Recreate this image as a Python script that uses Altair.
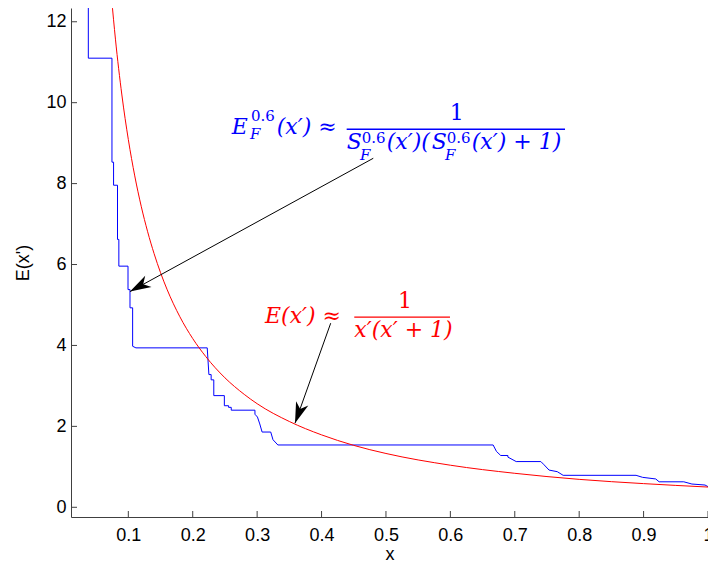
import altair as alt
import pandas as pd

# ---------------- data ----------------
x_ticks = [0.1, 0.2, 0.3, 0.4, 0.5, 0.6, 0.7, 0.8, 0.9, 1.0]
y_ticks = [0, 2, 4, 6, 8, 10, 12]

# empirical (blue) staircase: vertices in drawing order
blue_x = [0.0379, 0.0379, 0.0746, 0.0746, 0.0771, 0.0771, 0.0832, 0.0832, 0.0853, 0.0853,
          0.0995, 0.0995, 0.1026, 0.1026, 0.1067, 0.1067, 0.1118, 0.2225, 0.2251, 0.2286,
          0.2286, 0.2327, 0.2327, 0.2491, 0.2491, 0.2557, 0.2557, 0.2598, 0.2598, 0.2966,
          0.2966, 0.3005, 0.3041, 0.3077, 0.3211, 0.3246, 0.3322, 0.6664, 0.6716, 0.6782,
          0.6893, 0.6893, 0.7022, 0.7405, 0.7455, 0.7532, 0.7660, 0.7751, 0.8883, 0.8985,
          0.9189, 0.9241, 0.9624, 0.9750, 0.9954, 1.0]
blue_y = [13.0, 11.10, 11.10, 8.53, 8.53, 7.96, 7.96, 6.62, 6.62, 5.96,
          5.96, 5.38, 5.38, 4.93, 4.93, 3.98, 3.94, 3.94, 3.28, 3.28,
          3.15, 3.15, 2.76, 2.76, 2.51, 2.51, 2.47, 2.47, 2.40, 2.40,
          2.30, 2.23, 2.06, 1.86, 1.86, 1.67, 1.54, 1.54, 1.38, 1.28,
          1.28, 1.24, 1.13, 1.13, 1.05, 0.92, 0.88, 0.79, 0.79, 0.74,
          0.70, 0.63, 0.63, 0.575, 0.55, 0.51]

# theoretical (red) curve
red_x = [0.074, 0.08, 0.09, 0.1, 0.11, 0.12, 0.13, 0.14, 0.15, 0.16, 0.18, 0.2, 0.22,
         0.25, 0.28, 0.3, 0.35, 0.4, 0.45, 0.5, 0.6, 0.7, 0.8, 0.9, 1.0]
red_y = [12.58, 11.57, 10.19, 9.09, 8.19, 7.44, 6.81, 6.27, 5.80, 5.39, 4.71, 4.17, 3.73,
         3.20, 2.79, 2.56, 2.12, 1.79, 1.53, 1.33, 1.04, 0.84, 0.69, 0.585, 0.50]

BLUE = "#0000ff"
RED = "#ff0000"

# annotation pieces: text, x, y (baseline), font size, colour, italic, align
ann = [
    ("E", 0.2605, 9.227, 22, BLUE, True, "left"),
    ("0.6", 0.2905, 9.55, 15, BLUE, False, "left"),
    ("F", 0.2889, 9.10, 15, BLUE, True, "left"),
    ("(x\u2032) \u2248", 0.3304, 9.227, 22, BLUE, True, "left"),
    ("1", 0.6098, 9.573, 22, BLUE, False, "center"),
    ("S", 0.4390, 8.856, 22, BLUE, True, "left"),
    ("0.6", 0.4623, 9.005, 15, BLUE, False, "left"),
    ("F", 0.4597, 8.585, 15, BLUE, True, "left"),
    ("(x\u2032)(", 0.5011, 8.856, 22, BLUE, True, "left"),
    ("S", 0.5710, 8.856, 22, BLUE, True, "left"),
    ("0.6", 0.5943, 9.005, 15, BLUE, False, "left"),
    ("F", 0.5917, 8.585, 15, BLUE, True, "left"),
    ("(x\u2032) + 1)", 0.6331, 8.856, 22, BLUE, True, "left"),
    ("E(x\u2032) \u2248", 0.3122, 4.558, 22, RED, True, "left"),
    ("1", 0.5296, 4.921, 22, RED, False, "center"),
    ("x\u2032(x\u2032 + 1)", 0.4508, 4.200, 22, RED, True, "left"),
]

# fraction bars
bar_x = [0.4390, 0.4508]
bar_x2 = [0.7780, 0.5994]
bar_y = [9.343, 4.699]
bar_color = [BLUE, RED]

# arrows: start -> tip
arrow_x = [0.4803, 0.4142]
arrow_y = [8.626, 4.550]
arrow_tx = [0.1026, 0.3588]
arrow_ty = [5.331, 2.080]
arrow_angle = [241, 200]

# ---------------- chart ----------------
W, H = 637, 509
AX = "#404040"
SANS = "Liberation Sans"
SERIF = "DejaVu Serif"

xaxis = alt.Axis(values=x_ticks, format="~g", ticks=False, tickSize=0, grid=False,
                 domainColor=AX, domainWidth=1, labelFont=SANS, labelFontSize=18,
                 labelColor="#000", labelPadding=9, labelFlush=False, labelOverlap=False,
                 titleFont=SANS, titleFontSize=18, titleFontWeight="normal",
                 titleColor="#000", titlePadding=1)
yaxis = alt.Axis(values=y_ticks, ticks=False, tickSize=0, grid=False,
                 domainColor=AX, domainWidth=1, labelFont=SANS, labelFontSize=18,
                 labelColor="#000", labelPadding=5, labelFlush=False, labelOverlap=False,
                 titleFont=SANS, titleFontSize=18, titleFontWeight="normal",
                 titleColor="#000", titlePadding=13)

X = alt.X("x:Q", scale=alt.Scale(domain=[0.011, 1.0], nice=False, zero=False),
          axis=xaxis, title="x")
Y = alt.Y("y:Q", scale=alt.Scale(domain=[-0.24, 12.34], nice=False, zero=False),
          axis=yaxis, title="E(x')")

blue_df = pd.DataFrame({"x": blue_x, "y": blue_y, "i": range(len(blue_x))})
red_df = pd.DataFrame({"x": red_x, "y": red_y})

blue = alt.Chart(blue_df).mark_line(color=BLUE, strokeWidth=1, clip=True).encode(
    x=X, y=Y, order="i:Q")
red = alt.Chart(red_df).mark_line(color=RED, strokeWidth=1, clip=True,
                                  interpolate="monotone").encode(x=X, y=Y)

xt = alt.Chart(pd.DataFrame({"x": x_ticks})).mark_rule(color=AX, strokeWidth=1).encode(
    x=X, y=alt.value(H), y2=alt.value(H - 6))
yt = alt.Chart(pd.DataFrame({"y": y_ticks})).mark_rule(color=AX, strokeWidth=1).encode(
    y=Y, x=alt.value(0), x2=alt.value(6))

bars = alt.Chart(pd.DataFrame({"x": bar_x, "x2": bar_x2, "y": bar_y, "c": bar_color})).mark_rule(
    strokeWidth=1.3).encode(x=X, x2="x2:Q", y=Y, color=alt.Color("c:N", scale=None))

arrow_df = pd.DataFrame({"x": arrow_x, "y": arrow_y, "x2": arrow_tx, "y2": arrow_ty})
lines = alt.Chart(arrow_df).mark_rule(color="black", strokeWidth=1).encode(
    x=X, y=Y, x2="x2:Q", y2="y2:Q")

HEAD = "M0,0 L0.31,1 L0,0.72 L-0.31,1 Z"
heads = []
for tx, ty, a in zip(arrow_tx, arrow_ty, arrow_angle):
    heads.append(alt.Chart(pd.DataFrame({"x": [tx], "y": [ty]})).mark_point(
        shape=HEAD, size=1764, filled=True, color="black", opacity=1, angle=a,
        strokeWidth=0).encode(x=X, y=Y))

ann_df = pd.DataFrame(ann, columns=["t", "x", "y", "s", "c", "it", "al"])
texts = []
for it in [True, False]:
    for al in ["left", "center"]:
        sub = ann_df[(ann_df.it == it) & (ann_df.al == al)]
        if len(sub) == 0:
            continue
        texts.append(alt.Chart(sub).mark_text(
            align=al, baseline="alphabetic", font=SERIF,
            fontStyle="italic" if it else "normal").encode(
            x=X, y=Y, text="t:N",
            color=alt.Color("c:N", scale=None),
            size=alt.Size("s:Q", scale=None)))

chart = alt.layer(blue, red, xt, yt, bars, lines, *heads, *texts).properties(
    width=W, height=H,
    autosize=alt.AutoSizeParams(type="none"),
    padding={"left": 63, "top": 0, "right": 0, "bottom": 45},
    background="white",
).configure_view(stroke=None)

chart.save("out.html", embed_options={"renderer": "svg", "actions": False})
